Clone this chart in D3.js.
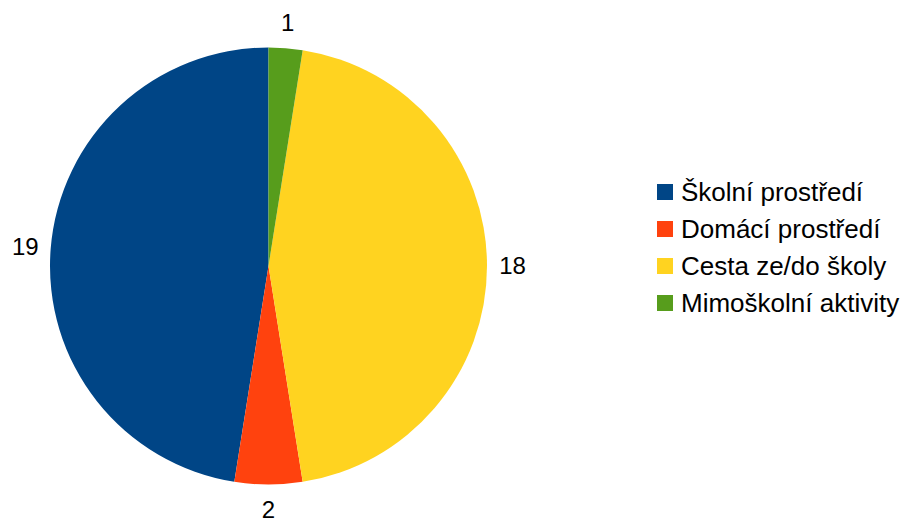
<!DOCTYPE html>
<html>
<head>
<meta charset="utf-8">
<script src="https://cdn.jsdelivr.net/npm/d3@7"></script>
<style>
  body { margin: 0; background: #fff; }
  svg { display: block; }
</style>
</head>
<body>
<div class="canvas"></div>
<script>
// data
const categories = ['Školní prostředí', 'Domácí prostředí', 'Cesta ze/do školy', 'Mimoškolní aktivity'];
const values = [19, 2, 18, 1];
const colors = ['#004586', '#ff420e', '#ffd320', '#579d1c'];

const width = 906, height = 524;
const cx = 268.5, cy = 266, radius = 218.5;
const font = 'Liberation Sans';

const svg = d3.select('.canvas')
    .append('svg')
    .attr('width', width)
    .attr('height', height);

const data = categories.map((c, i) => ({name: c, value: values[i], color: colors[i]}));

// pie runs counter-clockwise from 12 o'clock
const pie = d3.pie()
    .sort(null)
    .value(d => d.value)
    .startAngle(0)
    .endAngle(-2 * Math.PI);

const arc = d3.arc().innerRadius(0).outerRadius(radius);
const labelArc = d3.arc().innerRadius(244).outerRadius(244);

const graph = svg.append('g')
    .attr('transform', `translate(${cx}, ${cy})`);

const arcs = pie(data);

graph.selectAll('path')
    .data(arcs)
    .enter()
    .append('path')
    .attr('d', arc)
    .attr('fill', d => d.data.color);

graph.selectAll('text.lbl')
    .data(arcs)
    .enter()
    .append('text')
    .attr('class', 'lbl')
    .attr('transform', d => `translate(${labelArc.centroid(d)})`)
    .attr('text-anchor', 'middle')
    .attr('dy', '0.35em')
    .attr('font-family', font)
    .attr('font-size', 24)
    .attr('fill', '#000')
    .text(d => d.data.value);

// legend
const legend = svg.append('g')
    .attr('transform', 'translate(657, 192)');

const rows = legend.selectAll('g')
    .data(data)
    .enter()
    .append('g')
    .attr('transform', (d, i) => `translate(0, ${i * 37})`);

rows.append('rect')
    .attr('x', 0)
    .attr('y', -8)
    .attr('width', 16)
    .attr('height', 16)
    .attr('fill', d => d.color);

rows.append('text')
    .attr('x', 24)
    .attr('dy', '0.35em')
    .attr('font-family', font)
    .attr('font-size', 26)
    .attr('fill', '#000')
    .text(d => d.name);
</script>
</body>
</html>
